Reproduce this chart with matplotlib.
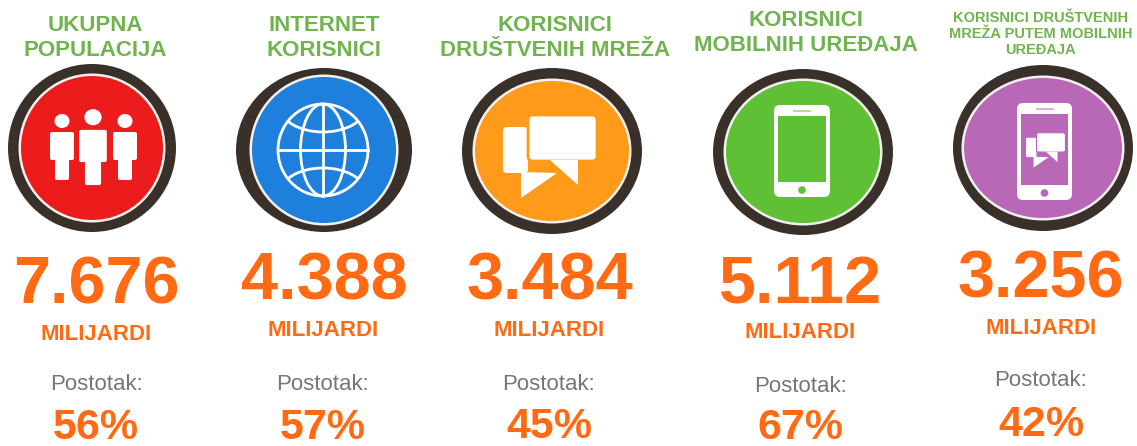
import matplotlib
matplotlib.use("Agg")
import matplotlib.pyplot as plt
from matplotlib.patches import Ellipse, FancyBboxPatch, Polygon, Circle

plt.rcParams['font.family'] = ['Liberation Sans', 'DejaVu Sans']

titles = ["UKUPNA\nPOPULACIJA", "INTERNET\nKORISNICI", "KORISNICI\nDRUŠTVENIH MREŽA",
          "KORISNICI\nMOBILNIH UREĐAJA", "KORISNICI DRUŠTVENIH\nMREŽA PUTEM MOBILNIH\nUREĐAJA"]
values = ["7.676", "4.388", "3.484", "5.112", "3.256"]
units = ["MILIJARDI"] * 5
percent_label = "Postotak:"
percents = ["56%", "57%", "45%", "67%", "42%"]
colors = ["#ed1c1c", "#1f7fdc", "#ff9a1a", "#60c035", "#b968b8"]

GREEN = "#70b34f"
ORANGE = "#ff6a13"
DARK = "#3a302a"

# pixel positions of each column
cx = [92, 324, 552, 803, 1043]
cy = [148, 150, 151, 152, 148]
outer = [(84, 84), (88, 82), (90, 83), (90, 83), (90, 83)]
inner = [(71, 72), (72, 73), (77, 70), (77, 71), (79, 70)]
title_x = [95, 324, 555, 806, 1041]
title_y = [38, 38, 38, 33, 34]
title_size = [16, 16, 16, 16, 10.5]
title_spacing = [1.27, 1.27, 1.27, 1.27, 1.22]
val_x = [96, 324, 550, 801, 1041]
val_y = [287, 283, 283, 286, 280]
unit_x = [96, 323, 549, 800, 1041]
unit_y = [334, 330, 330, 333, 328]
pct_label_x = [96, 323, 549, 800, 1041]
pct_label_y = [385, 385, 385, 387, 380]
pct_x = [96, 323, 549, 800, 1041]
pct_y = [428, 428, 427, 428, 425]

fig = plt.figure(figsize=(11.37, 4.46), dpi=100)
ax = fig.add_axes([0, 0, 1, 1])
ax.set_xlim(0, 1137)
ax.set_ylim(446, 0)
ax.axis("off")


def rrect(x0, y0, x1, y1, r, fc="white", ec="none", lw=0, z=4):
    ax.add_patch(FancyBboxPatch((x0 + r, y0 + r), x1 - x0 - 2 * r, y1 - y0 - 2 * r,
                                boxstyle="round,pad=%f,rounding_size=%f" % (r, r),
                                fc=fc, ec=ec, lw=lw, zorder=z))


def person(x, top, s):
    ax.add_patch(Ellipse((x, top + 8 * s), 15 * s, 14 * s, fc="white", zorder=4))
    rrect(x - 12 * s, top + 19 * s, x + 12 * s, top + 47 * s, 2)
    rrect(x - 7 * s, top + 42 * s, x + 7 * s, top + 67 * s, 2)


def people():
    person(62, 113, 1.0)
    person(125, 113, 1.0)
    person(93, 108, 1.15)


def globe():
    x, y = 323, 150
    rx, ry = 45, 46
    kw = dict(fc="none", ec="white", lw=2, zorder=4)
    ax.add_patch(Ellipse((x, y), 2 * rx, 2 * ry, **kw))
    ax.add_patch(Ellipse((x, y), rx, 2 * ry, **kw))
    ax.plot([x, x], [y - ry, y + ry], color="white", lw=2, zorder=4)
    ax.plot([x - rx, x + rx], [y, y], color="white", lw=2, zorder=4)
    clip = Circle((x, y), rx, transform=ax.transData)
    for dy in (-42, 42):
        arc = Ellipse((x, y + dy), 84, 48, **kw)
        ax.add_patch(arc)
        arc.set_clip_path(clip)


def bubbles(x, y, s, fill):
    # small bubble behind, big bubble in front with a gap
    rrect(x, y + 9 * s, x + 25 * s, y + 55 * s, 4 * s, z=4.6)
    ax.add_patch(Polygon([(x + 18 * s, y + 54 * s), (x + 18 * s, y + 80 * s), (x + 54 * s, y + 55 * s)],
                         fc="white", zorder=4.6))
    tail = [(x + 47 * s, y + 42 * s), (x + 75 * s, y + 67 * s), (x + 75 * s, y + 42 * s)]
    ax.add_patch(Polygon(tail, fc="white", ec=fill, lw=2 * s, zorder=4.8))
    rrect(x + 25 * s, y - 3 * s, x + 94 * s, y + 43 * s, 5 * s, fc="white", ec=fill, lw=2 * s, z=5)
    ax.add_patch(Polygon(tail, fc="white", zorder=5.1))


def phone(x0, y0, x1, y1, fill, lw):
    rrect(x0, y0, x1, y1, 6)
    ax.add_patch(plt.Rectangle((x0 + lw, y0 + 11), x1 - x0 - 2 * lw, y1 - y0 - 26, fc=fill, zorder=4.5))
    mx = (x0 + x1) / 2
    ax.plot([mx - 8, mx + 8], [y0 + 5.5, y0 + 5.5], color=fill, lw=1.5, alpha=0.5, zorder=5)
    ax.add_patch(Circle((mx, y1 - 7), 3.8, fc=fill, zorder=5))


for i in range(5):
    ax.add_patch(Ellipse((cx[i], cy[i]), 2 * outer[i][0], 2 * outer[i][1], fc=DARK, zorder=1))
    ax.add_patch(Ellipse((cx[i], cy[i]), 2 * inner[i][0] + 5, 2 * inner[i][1] + 5, fc="#f2f0ee", zorder=2))
    ax.add_patch(Ellipse((cx[i], cy[i]), 2 * inner[i][0], 2 * inner[i][1], fc=colors[i], zorder=3))

    ax.text(title_x[i], title_y[i], titles[i], color=GREEN, fontsize=title_size[i], fontweight="bold",
            ha="center", va="center", linespacing=title_spacing[i])
    ax.text(val_x[i], val_y[i], values[i], color=ORANGE, fontsize=48, fontweight="bold",
            ha="center", va="center")
    ax.text(unit_x[i], unit_y[i], units[i], color=ORANGE, fontsize=16, fontweight="bold",
            ha="center", va="center")
    ax.text(pct_label_x[i], pct_label_y[i], percent_label, color="#767676", fontsize=16,
            ha="center", va="center")
    ax.text(pct_x[i], pct_y[i], percents[i], color=ORANGE, fontsize=31, fontweight="bold",
            ha="center", va="center")

people()
globe()
bubbles(503, 118, 1.0, colors[2])
phone(774, 105, 830, 197, colors[3], 4)
phone(1017, 103, 1072, 200, colors[4], 4)
bubbles(1026, 134, 0.42, colors[4])

fig.savefig("out.png", dpi=100)
